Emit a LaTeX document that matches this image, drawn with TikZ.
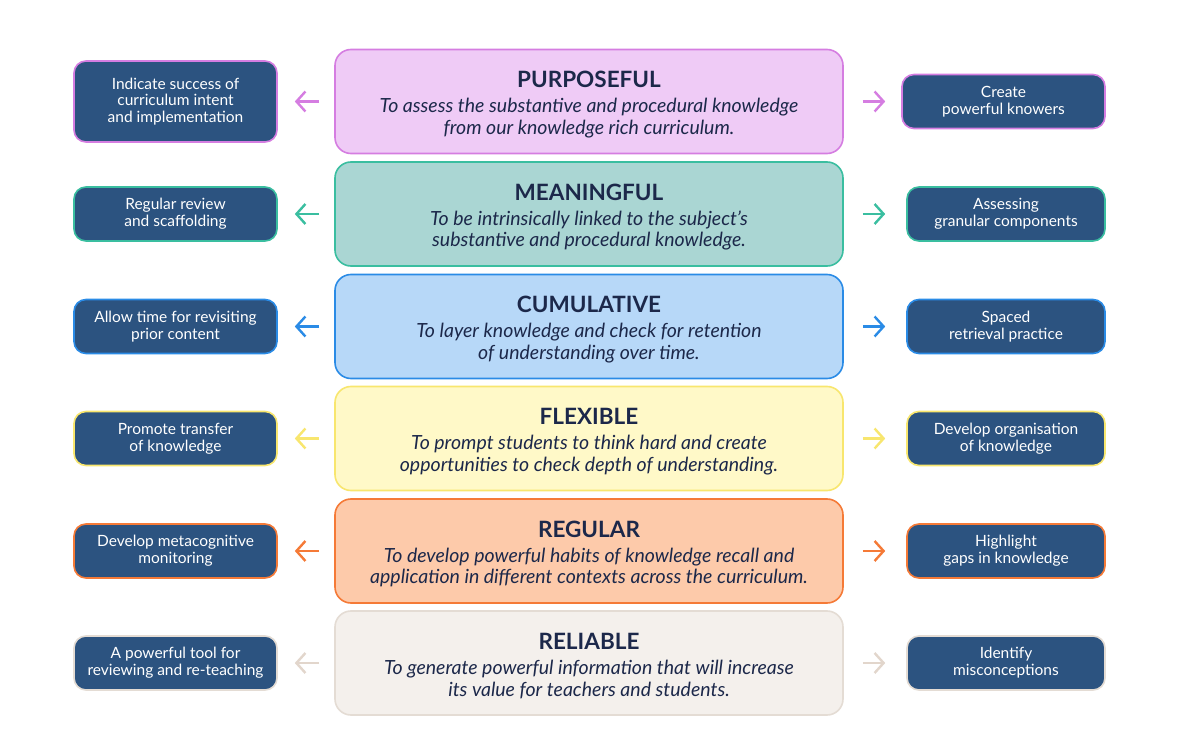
\documentclass[tikz,border=0pt]{standalone}
\usepackage{fontspec}
\setmainfont{Lato}
\usetikzlibrary{arrows.meta}
\definecolor{navy}{RGB}{28,40,74}
\definecolor{boxblue}{RGB}{44,83,128}
\definecolor{pfill}{RGB}{239,203,246}\definecolor{pline}{RGB}{213,125,225}
\definecolor{tfill}{RGB}{170,214,211}\definecolor{tline}{RGB}{58,190,160}
\definecolor{bfill}{RGB}{183,216,248}\definecolor{bline}{RGB}{42,139,230}
\definecolor{yfill}{RGB}{255,249,200}\definecolor{yline}{RGB}{248,230,110}
\definecolor{ofill}{RGB}{253,202,170}\definecolor{oline}{RGB}{245,122,55}
\definecolor{gfill}{RGB}{244,240,236}\definecolor{gline}{RGB}{228,220,212}
\definecolor{garrow}{RGB}{226,214,204}
\tikzset{
  mainbox/.style 2 args={draw=#1, fill=#2, line width=1.6pt, rounded corners=16pt,
    minimum width=508pt, minimum height=104pt},
  sidebox/.style={draw=#1, fill=boxblue, text=white, line width=1.6pt, rounded corners=12pt,
    minimum height=54pt, align=center, inner sep=0pt,
    font=\fontsize{15.5}{16.8}\selectfont},
  ttl/.style={font=\fontsize{22.5}{26}\selectfont\bfseries, text=navy, inner sep=0pt},
  sub/.style={font=\fontsize{19.5}{21.5}\selectfont\itshape, text=navy, align=center, inner sep=0pt},
  arr/.style={draw=#1, line width=2.4pt, -{Straight Barb[length=9pt,width=20pt]}},
}
\begin{document}
\begin{tikzpicture}[x=1pt,y=-1pt]
\useasboundingbox (0,0) rectangle (1179,746);
\fill[white] (0,0) rectangle (1179,746);

% centre boxes
\node[mainbox={pline}{pfill}] (m1) at (589,101.5) {};
\node[mainbox={tline}{tfill}] (m2) at (589,214) {};
\node[mainbox={bline}{bfill}] (m3) at (589,326.5) {};
\node[mainbox={yline}{yfill}] (m4) at (589,438.5) {};
\node[mainbox={oline}{ofill}] (m5) at (589,551) {};
\node[mainbox={gline}{gfill}] (m6) at (589,663) {};

\node[ttl] (t1) at (589,79.5) {PURPOSEFUL};
\node[ttl] (t2) at (589,192) {MEANINGFUL};
\node[ttl] (t3) at (589,304.5) {CUMULATIVE};
\node[ttl] (t4) at (589,416.5) {FLEXIBLE};
\node[ttl] (t5) at (589,529) {REGULAR};
\node[ttl] (t6) at (589,641) {RELIABLE};

\node[sub] (s1) at (589,118) {To assess the substantive and procedural knowledge\\from our knowledge rich curriculum.};
\node[sub] (s2) at (589,230.5) {To be intrinsically linked to the subject’s\\substantive and procedural knowledge.};
\node[sub] (s3) at (589,343) {To layer knowledge and check for retention\\of understanding over time.};
\node[sub] (s4) at (589,455) {To prompt students to think hard and create\\opportunities to check depth of understanding.};
\node[sub] (s5) at (589,567.5) {To develop powerful habits of knowledge recall and\\application in different contexts across the curriculum.};
\node[sub] (s6) at (589,679.5) {To generate powerful information that will increase\\its value for teachers and students.};

% left boxes
\node[sidebox=pline, minimum width=203pt, minimum height=81pt] (l1) at (175.5,101.5) {Indicate success of\\curriculum intent\\and implementation};
\node[sidebox=tline, minimum width=203pt] (l2) at (175.5,214) {Regular review\\and scaffolding};
\node[sidebox=bline, minimum width=203pt] (l3) at (175.5,326.5) {Allow time for revisiting\\prior content};
\node[sidebox=yline, minimum width=203pt] (l4) at (175.5,438.5) {Promote transfer\\of knowledge};
\node[sidebox=oline, minimum width=203pt] (l5) at (175.5,551) {Develop metacognitive\\monitoring};
\node[sidebox=gline, minimum width=203pt] (l6) at (175.5,663) {A powerful tool for\\reviewing and re-teaching};

% right boxes
\node[sidebox=pline, minimum width=203pt] (r1) at (1003.5,101.5) {Create\\powerful knowers};
\node[sidebox=tline, minimum width=198pt] (r2) at (1006,214) {Assessing\\granular components};
\node[sidebox=bline, minimum width=198pt] (r3) at (1006,326.5) {Spaced\\retrieval practice};
\node[sidebox=yline, minimum width=198pt] (r4) at (1006,438.5) {Develop organisation\\of knowledge};
\node[sidebox=oline, minimum width=198pt] (r5) at (1006,551) {Highlight\\gaps in knowledge};
\node[sidebox=gline, minimum width=198pt] (r6) at (1006,663) {Identify\\misconceptions};

% arrows
\draw[arr=pline, shorten <=15pt, shorten >=17pt] (m1.west) -- (l1.east);
\draw[arr=tline, shorten <=15pt, shorten >=17pt] (m2.west) -- (l2.east);
\draw[arr=bline, shorten <=15pt, shorten >=17pt] (m3.west) -- (l3.east);
\draw[arr=yline, shorten <=15pt, shorten >=17pt] (m4.west) -- (l4.east);
\draw[arr=oline, shorten <=15pt, shorten >=17pt] (m5.west) -- (l5.east);
\draw[arr=garrow, shorten <=15pt, shorten >=17pt] (m6.west) -- (l6.east);

\draw[arr=pline, shorten <=19pt, shorten >=16pt] (m1.east) -- (r1.west);
\draw[arr=tline, shorten <=19pt, shorten >=21pt] (m2.east) -- (r2.west);
\draw[arr=bline, shorten <=19pt, shorten >=21pt] (m3.east) -- (r3.west);
\draw[arr=yline, shorten <=19pt, shorten >=21pt] (m4.east) -- (r4.west);
\draw[arr=oline, shorten <=19pt, shorten >=21pt] (m5.east) -- (r5.west);
\draw[arr=garrow, shorten <=19pt, shorten >=21pt] (m6.east) -- (r6.west);
\end{tikzpicture}
\end{document}
